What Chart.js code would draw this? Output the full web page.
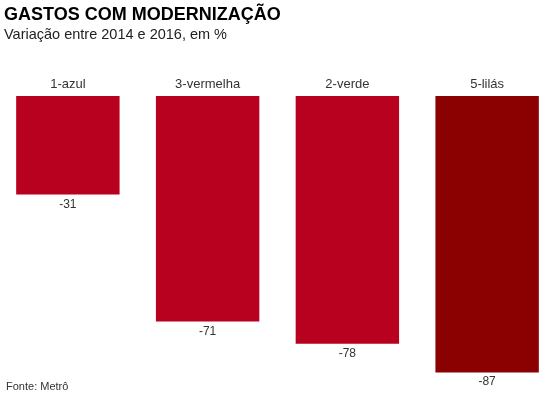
<!DOCTYPE html>
<html><head><meta charset="utf-8">
<script src="https://cdn.jsdelivr.net/npm/chart.js@4"></script>
<style>html,body{margin:0;padding:0;background:#fff;overflow:hidden}#wrap{width:560px;height:394px;position:relative;overflow:hidden}#c{position:absolute;left:-2px;top:0}</style>
</head><body><div id="wrap"><canvas id="c" width="561" height="394"></canvas></div>
<script>
const categories = ["1-azul", "3-vermelha", "2-verde", "5-lilás"];
const values = [-31, -71, -78, -87];
const barColors = ["#B8001F", "#B8001F", "#B8001F", "#8B0000"];
const titleText = "GASTOS COM MODERNIZAÇÃO";
const subtitleText = "Variação entre 2014 e 2016, em %";
const sourceText = "Fonte: Metrô";
const OFF = 2; // canvas is shifted 2px left

const textPlugin = {
  id: 'texts',
  afterDraw(chart) {
    const ctx = chart.ctx;
    ctx.save();
    ctx.textBaseline = 'alphabetic';
    ctx.fillStyle = '#000';
    ctx.font = 'bold 18px "Liberation Sans", Arial, sans-serif';
    ctx.textAlign = 'left';
    ctx.fillText(titleText, 4 + OFF, 20);
    ctx.fillStyle = '#222';
    ctx.font = '14.5px "Liberation Sans", Arial, sans-serif';
    ctx.fillText(subtitleText, 4 + OFF, 39);
    ctx.fillStyle = '#333';
    ctx.font = '11px "Liberation Sans", Arial, sans-serif';
    ctx.fillText(sourceText, 6 + OFF, 390);
    const meta = chart.getDatasetMeta(0);
    ctx.textAlign = 'center';
    meta.data.forEach((bar, i) => {
      ctx.fillStyle = '#333';
      ctx.font = '13px "Liberation Sans", Arial, sans-serif';
      ctx.fillText(categories[i], bar.x, bar.base - 8);
      ctx.font = '12px "Liberation Sans", Arial, sans-serif';
      ctx.fillText(String(values[i]), bar.x, bar.y + 13);
    });
    ctx.restore();
  }
};

new Chart(document.getElementById('c'), {
  type: 'bar',
  data: {
    labels: categories,
    datasets: [{
      data: values,
      backgroundColor: barColors,
      borderWidth: 0,
      categoryPercentage: 1,
      barPercentage: 0.74
    }]
  },
  options: {
    responsive: false,
    animation: false,
    devicePixelRatio: 1,
    layout: { padding: { left: 0, right: 2, top: 96, bottom: 12 } },
    plugins: { legend: { display: false }, tooltip: { enabled: false } },
    scales: {
      x: { display: false },
      y: { display: false, min: -90, max: 0 }
    }
  },
  plugins: [textPlugin]
});
</script></body></html>
